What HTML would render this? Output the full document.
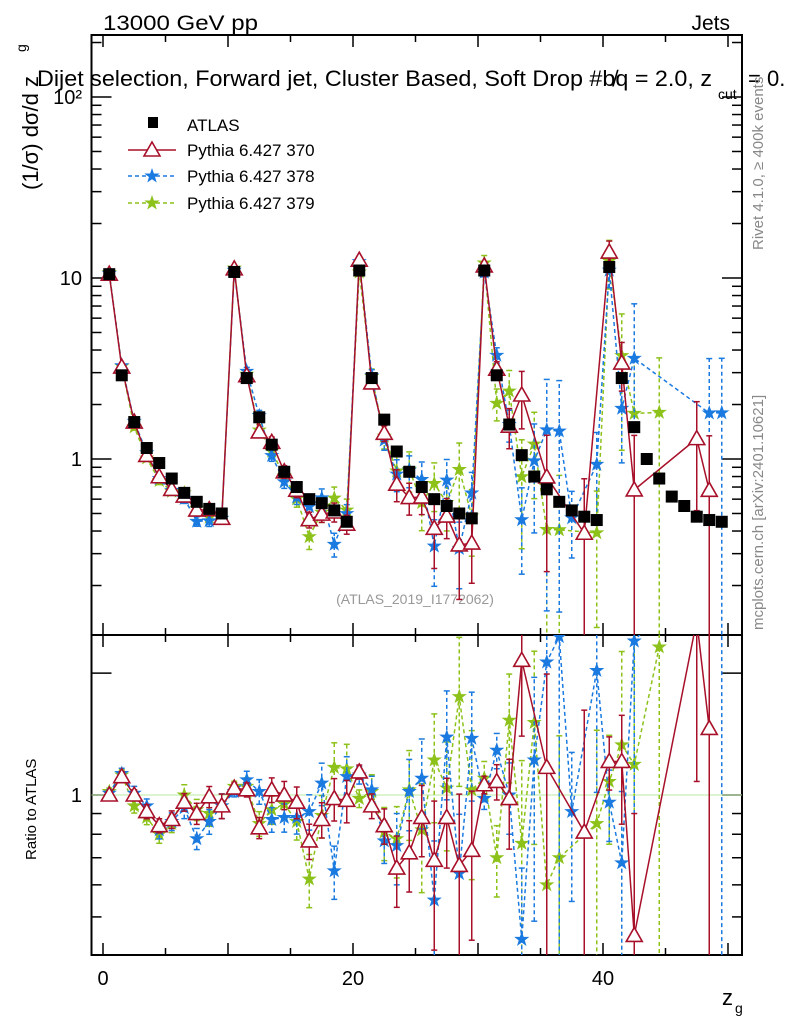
<!DOCTYPE html>
<html><head><meta charset="utf-8"><style>
html,body{margin:0;padding:0;background:#fff;width:786px;height:1024px;overflow:hidden;}
svg{display:block;font-family:"Liberation Sans",sans-serif;}
</style></head><body>
<svg id="c" width="786" height="1024" viewBox="0 0 786 1024" xmlns="http://www.w3.org/2000/svg"></svg>
<script>
// ---- data ----
const binCenters = [0.5,1.5,2.5,3.5,4.5,5.5,6.5,7.5,8.5,9.5,10.5,11.5,12.5,13.5,14.5,15.5,16.5,17.5,18.5,19.5,20.5,21.5,22.5,23.5,24.5,25.5,26.5,27.5,28.5,29.5,30.5,31.5,32.5,33.5,34.5,35.5,36.5,37.5,38.5,39.5,40.5,41.5,42.5,43.5,44.5,45.5,46.5,47.5,48.5,49.5];
const atlasVals = [10.5,2.9,1.6,1.15,0.95,0.78,0.65,0.58,0.53,0.5,10.8,2.8,1.7,1.2,0.85,0.7,0.6,0.57,0.52,0.45,11,2.8,1.65,1.1,0.85,0.7,0.6,0.55,0.5,0.47,11,2.9,1.55,1.05,0.8,0.68,0.58,0.52,0.48,0.46,11.5,2.8,1.5,1.0,0.78,0.62,0.55,0.48,0.46,0.45];
// ratios to ATLAS (null = no entry)
const r370 = [1.0,1.11,1.0,0.91,0.84,0.87,0.96,0.9,0.99,0.94,1.04,1.03,0.83,1.03,1.0,0.96,0.77,0.87,0.98,0.97,1.14,0.94,0.84,0.66,0.72,0.88,0.69,0.88,0.67,0.73,1.06,1.08,0.98,2.15,null,1.17,null,null,0.81,null,1.21,1.21,0.45,null,null,null,null,2.7,1.46,null];
const r378 = [1.01,1.13,1.01,0.94,0.82,0.86,0.93,0.78,0.86,0.94,1.02,1.09,1.02,0.87,0.88,0.88,0.91,1.07,0.65,1.11,1.12,1.03,0.77,0.75,1.02,1.1,0.55,1.39,0.64,1.38,0.98,1.29,1.0,0.44,1.22,2.13,2.46,0.91,null,2.03,0.96,0.68,2.4,null,null,null,null,null,3.9,4.0];
const r379 = [1.02,1.12,0.94,0.88,0.8,0.85,1.0,0.92,0.9,0.94,1.05,1.05,0.85,0.92,0.95,0.86,0.62,0.89,1.17,1.16,0.98,1.02,0.81,0.78,1.03,0.82,1.22,1.04,1.75,1.03,1.1,0.7,1.53,0.76,1.51,0.6,0.7,null,null,0.85,1.08,1.33,1.19,null,2.32,null,null,null,null,null];
const e370 = [0.02,0.03,0.03,0.04,0.04,0.05,0.05,0.06,0.06,0.07,0.03,0.04,0.06,0.07,0.08,0.09,0.1,0.1,0.12,0.12,0.04,0.07,0.1,0.2,0.2,0.2,0.4,0.25,0.5,0.4,0.05,0.1,0.25,0.35,null,0.7,null,null,1,null,0.15,0.3,1,null,null,null,null,0.6,1,null];
const e378 = [0.02,0.03,0.04,0.04,0.05,0.05,0.06,0.06,0.07,0.07,0.03,0.05,0.07,0.07,0.08,0.09,0.1,0.12,0.15,0.12,0.05,0.08,0.12,0.2,0.2,0.25,0.4,0.3,0.4,0.3,0.06,0.1,0.2,0.5,0.6,0.9,0.9,0.4,null,0.5,0.2,0.5,1,null,null,null,null,null,1,1];
const e379 = [0.02,0.03,0.04,0.04,0.05,0.05,0.06,0.06,0.07,0.07,0.03,0.05,0.07,0.08,0.08,0.1,0.15,0.12,0.15,0.15,0.05,0.1,0.15,0.2,0.25,0.3,0.3,0.3,0.4,0.4,0.1,0.2,0.3,0.6,0.5,1,1,null,null,0.7,0.3,0.7,1,null,1,null,null,null,null,null];
const xTicks = [0,20,40];
const yMainTicks = [[100,"10\u00b2"],[10,"10"],[1,"1"]];

// ---- geometry ----
const L=91.5,R=742,T=35,M=635,B=955;
const X=v=>103+12.5*v;
const Ym=v=>459-181*Math.log10(v);
const Yr=v=>795-405*Math.log10(v);
const svg=document.getElementById('c');
const NS="http://www.w3.org/2000/svg";
function el(tag,attrs,parent){const e=document.createElementNS(NS,tag);for(const k in attrs)e.setAttribute(k,attrs[k]);(parent||svg).appendChild(e);return e;}

const defs=el('defs',{});
const cp1=el('clipPath',{id:'cm'},defs);el('rect',{x:L,y:T,width:R-L,height:M-T},cp1);
const cp2=el('clipPath',{id:'cr'},defs);el('rect',{x:L,y:M,width:R-L,height:B-M},cp2);

function txt(s,x,y,attrs,name){const t=el('text',Object.assign({x:x,y:y},attrs));t.textContent=s;


return t;}

txt("13000 GeV pp",103,30,{'font-size':21,textLength:155,lengthAdjust:'spacingAndGlyphs'},'energy-label');
txt("Jets",730,30,{'font-size':21,'text-anchor':'end'},'process-label');
txt("Dijet selection, Forward jet, Cluster Based, Soft Drop #b\u0338q = 2.0, z",37,86,{'font-size':22,textLength:675,lengthAdjust:'spacingAndGlyphs'},'plot-title');
txt("cut",718,99,{'font-size':14},'plot-title-sub');
txt("= 0.",748,86,{'font-size':22},'plot-title-end');
txt("Rivet 4.1.0, \u2265 400k events",763,250,{'font-size':15,fill:'#888',transform:'rotate(-90 763 250)'},'rivet-version');
txt("mcplots.cern.ch [arXiv:2401.10621]",763,630,{'font-size':15,fill:'#888',transform:'rotate(-90 763 630)'},'mcplots-credit');
txt("(ATLAS_2019_I1772062)",415,604,{'font-size':14,fill:'#999','text-anchor':'middle'},'analysis-id');
txt("(1/\u03c3) d\u03c3/d z",38,190,{'font-size':22,transform:'rotate(-90 38 190)'},'y-axis-title');
txt("g",26,52,{'font-size':14,transform:'rotate(-90 26 52)'},'y-axis-title-sub');
txt("Ratio to ATLAS",36,860,{'font-size':15,transform:'rotate(-90 36 860)'},'ratio-axis-title');
txt("z",722,1005,{'font-size':22},'x-axis-title');
txt("g",735,1013,{'font-size':14},'x-axis-title-sub');

el('rect',{x:L,y:T,width:R-L,height:M-T,fill:'none',stroke:'#000','stroke-width':2,});
el('rect',{x:L,y:M,width:R-L,height:B-M,fill:'none',stroke:'#000','stroke-width':2,});

for(let v=0;v<=50;v+=5){const x=X(v);const big=(v%10===0)?12:7;
 [[T,1],[M,-1],[M,1],[B,-1]].forEach(([y,d])=>{el('line',{x1:x,x2:x,y1:y,y2:y+d*big,stroke:'#000','stroke-width':1.5});});}
xTicks.forEach(v=>{txt(String(v),X(v),985,{'font-size':20,'text-anchor':'middle'},'x-tick-label');});

for(let d=-1;d<=2;d++){for(let m=1;m<=9;m++){const v=m*Math.pow(10,d);const y=Ym(v);if(y<T||y>M)continue;const len=m===1?20:10;
 el('line',{x1:L,x2:L+len,y1:y,y2:y,stroke:'#000','stroke-width':1.5});el('line',{x1:R,x2:R-len,y1:y,y2:y,stroke:'#000','stroke-width':1.5});}}
yMainTicks.forEach(([v,s])=>{txt(s,82,Ym(v)+7,{'font-size':20,'text-anchor':'end'},'y-tick-label');});
[0.5,0.6,0.7,0.8,0.9,1,2].forEach(v=>{const y=Yr(v);const len=v===1||v===2?20:10;
 el('line',{x1:L,x2:L+len,y1:y,y2:y,stroke:'#000','stroke-width':1.5});el('line',{x1:R,x2:R-len,y1:y,y2:y,stroke:'#000','stroke-width':1.5});});
txt("1",82,Yr(1)+7,{'font-size':20,'text-anchor':'end'},'ratio-tick-label');
el('line',{x1:L,x2:R,y1:Yr(1),y2:Yr(1),stroke:'#b8e8a0','stroke-width':1,});

function tri(g,x,y,c){el('path',{d:`M${x},${y-8} L${x+8},${y+6} L${x-8},${y+6} Z`,fill:'#fff',stroke:c,'stroke-width':1.6},g);}
function star(g,x,y,c){let p='';for(let i=0;i<10;i++){const r=i%2?2.6:6.5;const a=-Math.PI/2+i*Math.PI/5;p+=(i?'L':'M')+(x+r*Math.cos(a)).toFixed(1)+','+(y+r*Math.sin(a)).toFixed(1);}el('path',{d:p+'Z',fill:c,stroke:c,'stroke-width':1},g);}

const series=[
 {r:r370,e:e370,c:'#a8102a',dash:null,m:tri,name:'pythia-370'},
 {r:r378,e:e378,c:'#1a7ae0',dash:'4,3',m:star,name:'pythia-378'},
 {r:r379,e:e379,c:'#8cc21a',dash:'4,3',m:star,name:'pythia-379'}];

function drawSeries(s,panel){
 const g=el('g',{'clip-path':panel==='main'?'url(#cm)':'url(#cr)'});
 
 
 const Y=panel==='main'?Ym:Yr;
 let d='';
 binCenters.forEach((b,i)=>{const r=s.r[i];if(r==null)return;const v=panel==='main'?r*atlasVals[i]:r;d+=(d?'L':'M')+X(b)+','+Y(v);});
 el('path',{d:d,fill:'none',stroke:s.c,'stroke-width':1.5,'stroke-dasharray':s.dash||'none'},g);
 binCenters.forEach((b,i)=>{const r=s.r[i];if(r==null)return;const v=panel==='main'?r*atlasVals[i]:r;const e=s.e[i]||0.05;
  const lo=Math.max(v*(1-e),v*0.01),hi=v*(1+e);const x=X(b);
  el('line',{x1:x,x2:x,y1:Y(lo),y2:Y(hi),stroke:s.c,'stroke-width':1.5,'stroke-dasharray':s.dash||'none'},g);
  el('line',{x1:x-3,x2:x+3,y1:Y(lo),y2:Y(lo),stroke:s.c,'stroke-width':1.5},g);
  el('line',{x1:x-3,x2:x+3,y1:Y(hi),y2:Y(hi),stroke:s.c,'stroke-width':1.5},g);
  s.m(g,x,Y(v),s.c);});
}
series.slice().reverse().forEach(s=>drawSeries(s,'main'));
const ga=el('g',{'clip-path':'url(#cm)'});


binCenters.forEach((b,i)=>{el('rect',{x:X(b)-6,y:Ym(atlasVals[i])-6,width:12,height:12,fill:'#000'},ga);});
series.slice().reverse().forEach(s=>drawSeries(s,'ratio'));

const lg=el('g',{});


el('rect',{x:148,y:117,width:10,height:11,fill:'#000'},lg);
txt("ATLAS",187,131,{'font-size':17},'legend-entry-atlas');
const ly=[150,176,203];const lab=["Pythia 6.427 370","Pythia 6.427 378","Pythia 6.427 379"];
series.forEach((s,i)=>{const y=ly[i];el('line',{x1:128,x2:176,y1:y,y2:y,stroke:s.c,'stroke-width':1.5,'stroke-dasharray':s.dash||'none'},lg);s.m(lg,152,y,s.c);
 txt(lab[i],187,y+6,{'font-size':17},'legend-entry-'+s.name);});
</script>
</body></html>
